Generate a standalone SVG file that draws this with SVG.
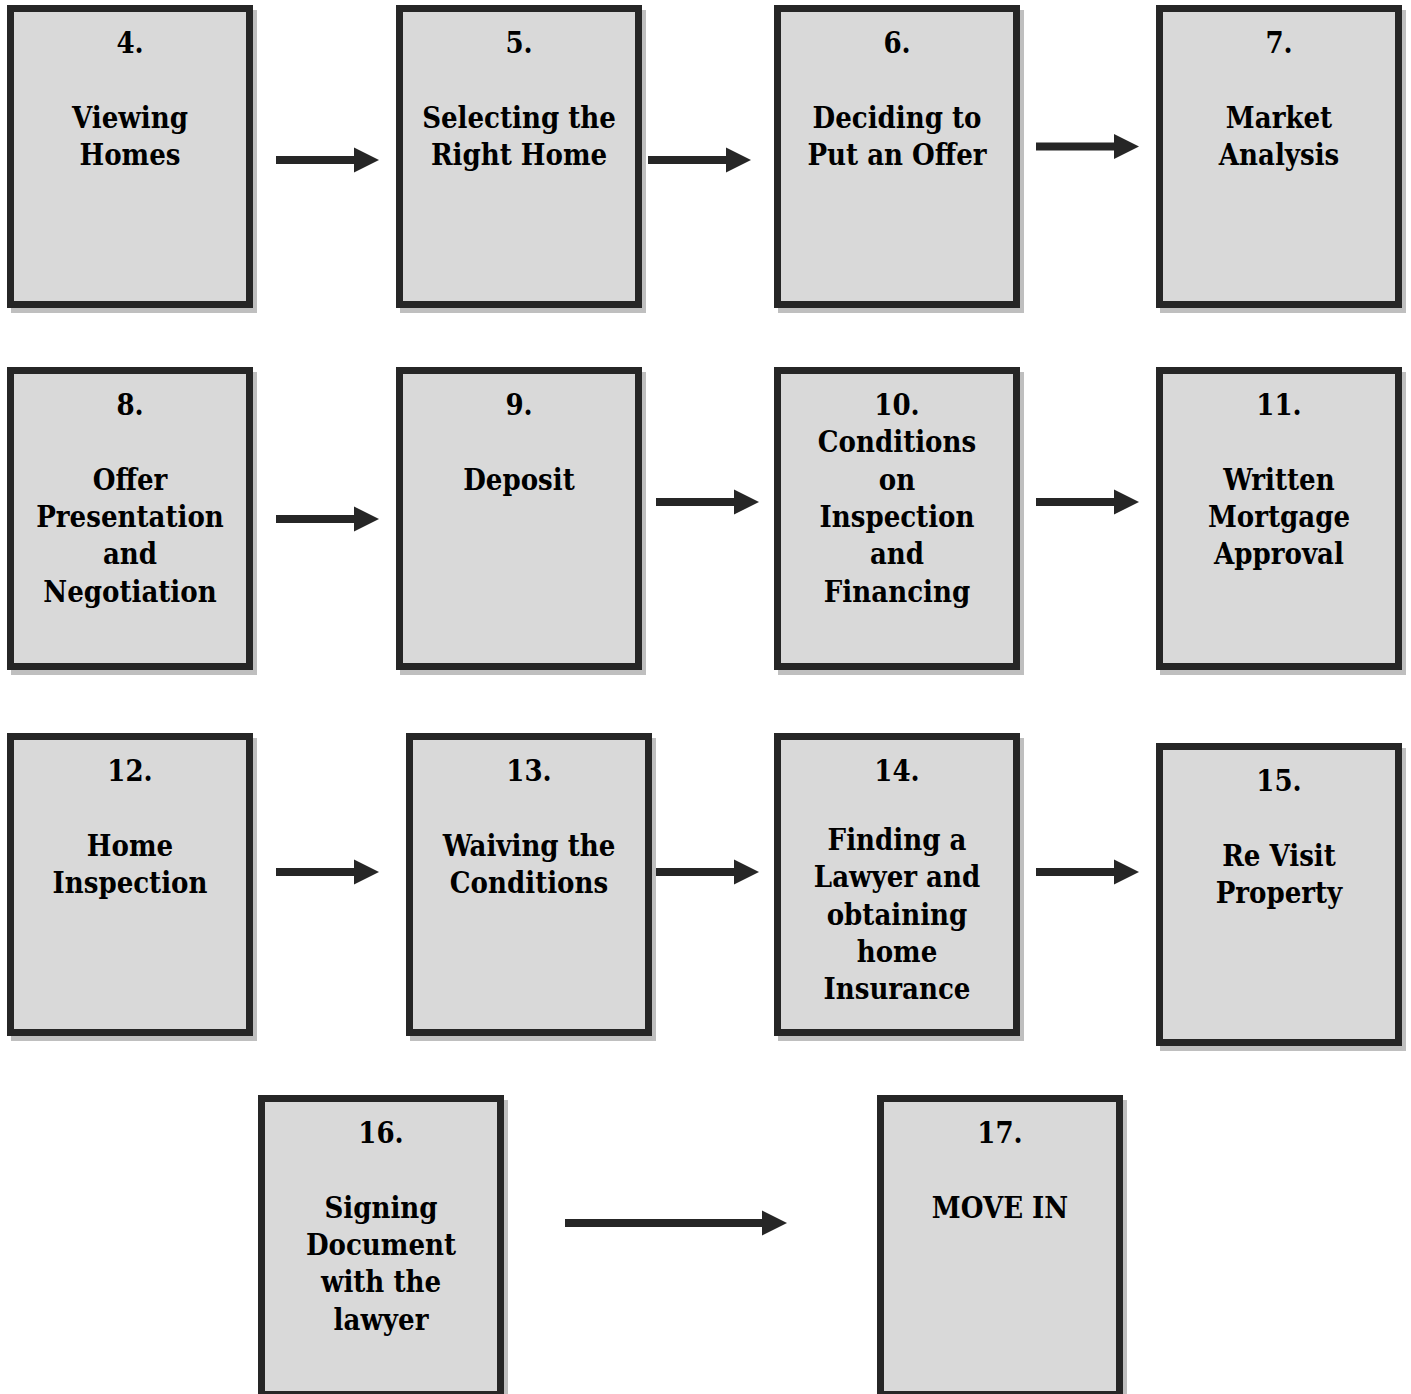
<svg xmlns="http://www.w3.org/2000/svg" width="1411" height="1394" viewBox="0 0 1411 1394">
<defs>
<style>
.sh{fill:#bfbfbf}
.bx{fill:#d9d9d9;stroke:#262626;stroke-width:7}
.t{font-family:"DejaVu Serif Condensed","DejaVu Serif","Liberation Serif",serif;font-stretch:condensed;font-weight:bold;font-size:29px;fill:#000;text-anchor:middle}
.ar{stroke:#262626;stroke-width:8;fill:none}
</style>
<marker id="ah" markerUnits="userSpaceOnUse" markerWidth="25" markerHeight="25" refX="0" refY="12.5" orient="auto" overflow="visible">
<path d="M0,0 L25,12.5 L0,25 z" fill="#262626"/>
</marker>
</defs>
<rect width="1411" height="1394" fill="#fff"/>

<g id="connectors">
<line class="ar" x1="276" y1="160" x2="354" y2="160" marker-end="url(#ah)"/>
<line class="ar" x1="648" y1="160" x2="726" y2="160" marker-end="url(#ah)"/>
<line class="ar" x1="1036" y1="146.5" x2="1114" y2="146.5" marker-end="url(#ah)"/>
<line class="ar" x1="276" y1="519" x2="354" y2="519" marker-end="url(#ah)"/>
<line class="ar" x1="656" y1="502" x2="734" y2="502" marker-end="url(#ah)"/>
<line class="ar" x1="1036" y1="502" x2="1114" y2="502" marker-end="url(#ah)"/>
<line class="ar" x1="276" y1="872" x2="354" y2="872" marker-end="url(#ah)"/>
<line class="ar" x1="656" y1="872" x2="734" y2="872" marker-end="url(#ah)"/>
<line class="ar" x1="1036" y1="872" x2="1114" y2="872" marker-end="url(#ah)"/>
<line class="ar" x1="565" y1="1223" x2="762" y2="1223" marker-end="url(#ah)"/>
</g>

<g id="n4">
<rect class="sh" x="11" y="10" width="246" height="303"/>
<rect class="bx" x="10.5" y="8.5" width="239" height="296"/>
<text class="t" x="130" y="53">4.</text>
<text class="t" x="130" y="127.5">Viewing</text>
<text class="t" x="130" y="164.5">Homes</text>
</g>
<g id="n5">
<rect class="sh" x="400" y="10" width="246" height="303"/>
<rect class="bx" x="399.5" y="8.5" width="239" height="296"/>
<text class="t" x="519" y="53">5.</text>
<text class="t" x="519" y="127.5">Selecting the</text>
<text class="t" x="519" y="164.5">Right Home</text>
</g>
<g id="n6">
<rect class="sh" x="778" y="10" width="246" height="303"/>
<rect class="bx" x="777.5" y="8.5" width="239" height="296"/>
<text class="t" x="897" y="53">6.</text>
<text class="t" x="897" y="127.5">Deciding to</text>
<text class="t" x="897" y="164.5">Put an Offer</text>
</g>
<g id="n7">
<rect class="sh" x="1160" y="10" width="246" height="303"/>
<rect class="bx" x="1159.5" y="8.5" width="239" height="296"/>
<text class="t" x="1279" y="53">7.</text>
<text class="t" x="1279" y="127.5">Market</text>
<text class="t" x="1279" y="164.5">Analysis</text>
</g>

<g id="n8">
<rect class="sh" x="11" y="372" width="246" height="303"/>
<rect class="bx" x="10.5" y="370.5" width="239" height="296"/>
<text class="t" x="130" y="415">8.</text>
<text class="t" x="130" y="489.5">Offer</text>
<text class="t" x="130" y="527">Presentation</text>
<text class="t" x="130" y="564">and</text>
<text class="t" x="130" y="601.5">Negotiation</text>
</g>
<g id="n9">
<rect class="sh" x="400" y="372" width="246" height="303"/>
<rect class="bx" x="399.5" y="370.5" width="239" height="296"/>
<text class="t" x="519" y="415">9.</text>
<text class="t" x="519" y="489.5">Deposit</text>
</g>
<g id="n10">
<rect class="sh" x="778" y="372" width="246" height="303"/>
<rect class="bx" x="777.5" y="370.5" width="239" height="296"/>
<text class="t" x="897" y="415">10.</text>
<text class="t" x="897" y="452">Conditions</text>
<text class="t" x="897" y="489.5">on</text>
<text class="t" x="897" y="527">Inspection</text>
<text class="t" x="897" y="564">and</text>
<text class="t" x="897" y="601.5">Financing</text>
</g>
<g id="n11">
<rect class="sh" x="1160" y="372" width="246" height="303"/>
<rect class="bx" x="1159.5" y="370.5" width="239" height="296"/>
<text class="t" x="1279" y="415">11.</text>
<text class="t" x="1279" y="489.5">Written</text>
<text class="t" x="1279" y="527">Mortgage</text>
<text class="t" x="1279" y="564">Approval</text>
</g>

<g id="n12">
<rect class="sh" x="11" y="738" width="246" height="303"/>
<rect class="bx" x="10.5" y="736.5" width="239" height="296"/>
<text class="t" x="130" y="781">12.</text>
<text class="t" x="130" y="855.5">Home</text>
<text class="t" x="130" y="892.5">Inspection</text>
</g>
<g id="n13">
<rect class="sh" x="410" y="738" width="246" height="303"/>
<rect class="bx" x="409.5" y="736.5" width="239" height="296"/>
<text class="t" x="529" y="781">13.</text>
<text class="t" x="529" y="855.5">Waiving the</text>
<text class="t" x="529" y="892.5">Conditions</text>
</g>
<g id="n14">
<rect class="sh" x="778" y="738" width="246" height="303"/>
<rect class="bx" x="777.5" y="736.5" width="239" height="296"/>
<text class="t" x="897" y="781">14.</text>
<text class="t" x="897" y="849.5">Finding a</text>
<text class="t" x="897" y="887">Lawyer and</text>
<text class="t" x="897" y="924.5">obtaining</text>
<text class="t" x="897" y="961.5">home</text>
<text class="t" x="897" y="999">Insurance</text>
</g>
<g id="n15">
<rect class="sh" x="1160" y="748" width="246" height="303"/>
<rect class="bx" x="1159.5" y="746.5" width="239" height="296"/>
<text class="t" x="1279" y="791">15.</text>
<text class="t" x="1279" y="865.5">Re Visit</text>
<text class="t" x="1279" y="902.5">Property</text>
</g>

<g id="n16">
<rect class="sh" x="262" y="1100" width="246" height="303"/>
<rect class="bx" x="261.5" y="1098.5" width="239" height="296"/>
<text class="t" x="381" y="1143">16.</text>
<text class="t" x="381" y="1217.5">Signing</text>
<text class="t" x="381" y="1255">Document</text>
<text class="t" x="381" y="1292">with the</text>
<text class="t" x="381" y="1329.5">lawyer</text>
</g>
<g id="n17">
<rect class="sh" x="881" y="1100" width="246" height="303"/>
<rect class="bx" x="880.5" y="1098.5" width="239" height="296"/>
<text class="t" x="1000" y="1143">17.</text>
<text class="t" x="1000" y="1217.5">MOVE IN</text>
</g>
</svg>
